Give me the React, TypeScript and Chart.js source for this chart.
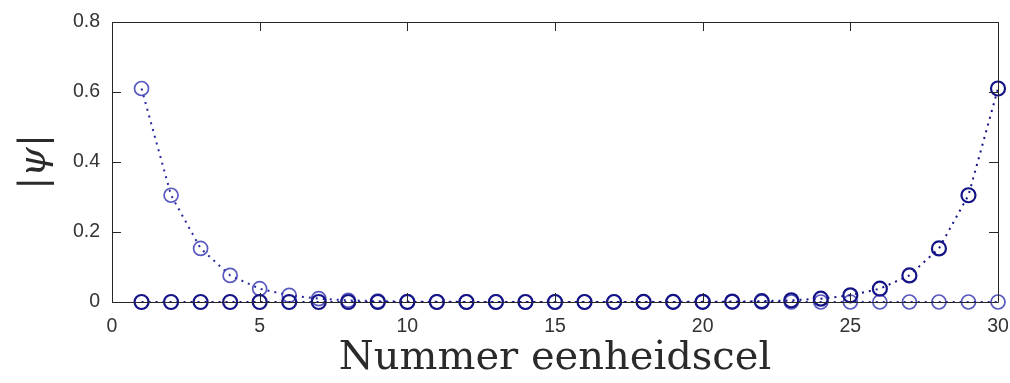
import React, { useEffect, useRef } from "react";
import { Chart, registerables } from "chart.js";

Chart.register(...registerables);

const cells = [1, 2, 3, 4, 5, 6, 7, 8, 9, 10, 11, 12, 13, 14, 15, 16, 17, 18, 19, 20, 21, 22, 23, 24, 25, 26, 27, 28, 29, 30];
const leftEdgeState = [0.61, 0.305, 0.153, 0.076, 0.038, 0.019, 0.0095, 0.0048, 0.0024, 0.0012, 0.0006, 0.0003, 0.00015, 0.00007, 0.00004, 0.00002, 0.00001, 0, 0, 0, 0, 0, 0, 0, 0, 0, 0, 0, 0, 0];
const rightEdgeState = [0, 0, 0, 0, 0, 0, 0, 0, 0, 0, 0, 0, 0, 0.00001, 0.00002, 0.00004, 0.00007, 0.00015, 0.0003, 0.0006, 0.0012, 0.0024, 0.0048, 0.0095, 0.019, 0.038, 0.076, 0.153, 0.305, 0.61];
const xTicks = [0, 5, 10, 15, 20, 25, 30];
const yTicks = [0, 0.2, 0.4, 0.6, 0.8];
const yTickLabels = ["0", "0.2", "0.4", "0.6", "0.8"];
const xTitle = "Nummer eenheidscel";
const yTitle = "|ψ|";

const AXIS_COLOR = "#262626";
const TICK_LEN = 9;

const boxPlugin = {
  id: "matlabBox",
  afterDatasetsDraw(chart: any) {
    const { ctx, chartArea, scales } = chart;
    const { left, right, top, bottom } = chartArea;
    ctx.save();
    ctx.strokeStyle = AXIS_COLOR;
    ctx.lineWidth = 1;
    ctx.beginPath();
    ctx.rect(Math.round(left) + 0.5, Math.round(top) + 0.5, Math.round(right - left), Math.round(bottom - top));
    ctx.stroke();
    ctx.beginPath();
    for (const v of xTicks) {
      const x = Math.round(scales.x.getPixelForValue(v)) + 0.5;
      ctx.moveTo(x, bottom);
      ctx.lineTo(x, bottom - TICK_LEN);
      ctx.moveTo(x, top);
      ctx.lineTo(x, top + TICK_LEN);
    }
    for (const v of yTicks) {
      const y = Math.round(scales.y.getPixelForValue(v)) + 0.5;
      ctx.moveTo(left, y);
      ctx.lineTo(left + TICK_LEN, y);
      ctx.moveTo(right, y);
      ctx.lineTo(right - TICK_LEN, y);
    }
    ctx.stroke();
    ctx.restore();
  },
};

export default function App() {
  const ref = useRef<HTMLCanvasElement>(null);
  useEffect(() => {
    document.body.style.margin = "0";
    const canvas = ref.current!;
    const chart = new Chart(canvas, {
      type: "line",
      data: {
        datasets: [
          {
            data: cells.map((c, i) => ({ x: c, y: rightEdgeState[i] })),
            borderColor: "rgb(20,20,135)",
            pointBorderColor: "rgb(20,20,135)",
            backgroundColor: "rgba(0,0,0,0)",
            pointBackgroundColor: "rgba(0,0,0,0)",
            borderWidth: 2,
            borderDash: [2, 5],
            pointRadius: 7,
            pointBorderWidth: 2.2,
            pointStyle: "circle",
            tension: 0,
          },
          {
            data: cells.map((c, i) => ({ x: c, y: leftEdgeState[i] })),
            borderColor: "rgb(40,40,160)",
            pointBorderColor: "rgba(60,60,180,0.85)",
            backgroundColor: "rgba(0,0,0,0)",
            pointBackgroundColor: "rgba(0,0,0,0)",
            borderWidth: 2,
            borderDash: [2, 5],
            pointRadius: 7,
            pointBorderWidth: 1.7,
            pointStyle: "circle",
            tension: 0,
          },
        ],
      },
      options: {
        animation: false,
        responsive: false,
        maintainAspectRatio: false,
        events: [],
        clip: false as any,
        layout: { padding: { top: 22, right: 12, left: 0, bottom: 0 } },
        plugins: { legend: { display: false }, tooltip: { enabled: false } },
        scales: {
          x: {
            type: "linear",
            min: 0,
            max: 30,
            afterBuildTicks: (scale: any) => {
              scale.ticks = xTicks.map((v) => ({ value: v }));
            },
            afterFit: (scale: any) => {
              scale.height = 81;
              scale.paddingRight = 0;
              scale.paddingLeft = 0;
            },
            grid: { display: false, drawTicks: false },
            border: { display: false },
            ticks: {
              padding: 13,
              color: "#333333",
              font: { family: "Liberation Sans", size: 19.5 },
              maxRotation: 0,
              callback: (v: any) => String(v),
            },
            title: {
              display: true,
              text: xTitle,
              color: "#2a2a2a",
              font: { family: "DejaVu Serif", size: 40 },
              padding: { top: 3, bottom: 0 },
            },
          },
          y: {
            type: "linear",
            min: 0,
            max: 0.8,
            afterBuildTicks: (scale: any) => {
              scale.ticks = yTicks.map((v) => ({ value: v }));
            },
            afterFit: (scale: any) => {
              scale.width = 112;
              scale.paddingTop = 0;
              scale.paddingBottom = 0;
            },
            grid: { display: false, drawTicks: false },
            border: { display: false },
            ticks: {
              padding: 12,
              color: "#333333",
              font: { family: "Liberation Sans", size: 19.5 },
              callback: (v: any) => {
                const i = yTicks.findIndex((t) => Math.abs(t - v) < 1e-9);
                return i >= 0 ? yTickLabels[i] : "";
              },
            },
            title: {
              display: true,
              text: yTitle,
              color: "#2a2a2a",
              font: { family: "DejaVu Serif", size: 38, style: "italic" },
              padding: { top: 12, bottom: 0 },
            },
          },
        },
      },
      plugins: [boxPlugin],
    } as any);
    return () => chart.destroy();
  }, []);
  return (
    <div style={{ width: 1010, height: 383, background: "#fff" }}>
      <canvas ref={ref} width={1010} height={383} style={{ display: "block" }} />
    </div>
  );
}
